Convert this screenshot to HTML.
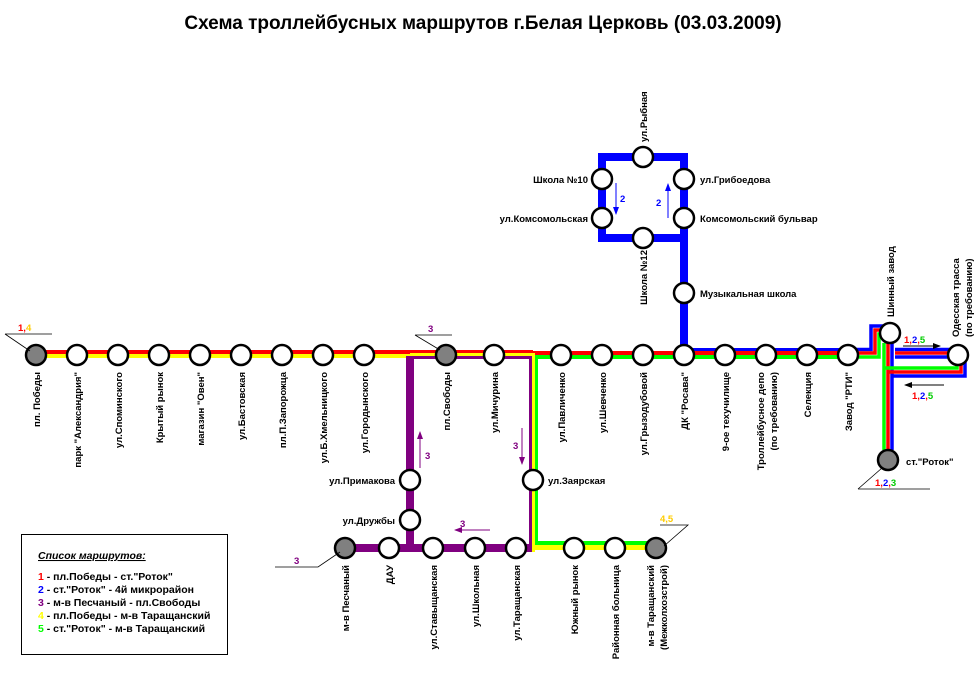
<!DOCTYPE html>
<html><head><meta charset="utf-8"><style>
html,body{margin:0;padding:0;background:#fff}
svg{display:block}
text{font-family:"Liberation Sans","DejaVu Sans",sans-serif;font-weight:bold;font-size:9.5px;fill:#000}
.lg{font-size:10.5px}
.st{fill:#fff;stroke:#000;stroke-width:2.5}
.tm{fill:#808080;stroke:#000;stroke-width:2.5}
</style></head><body>
<svg width="980" height="679" viewBox="0 0 980 679" xmlns="http://www.w3.org/2000/svg">
<defs>
<marker id="ahk" markerWidth="8" markerHeight="6" refX="7" refY="3" orient="auto" markerUnits="userSpaceOnUse"><path d="M0,0 L8,3 L0,6 z" fill="#000"/></marker>
<marker id="ahp" markerWidth="8" markerHeight="6" refX="7" refY="3" orient="auto" markerUnits="userSpaceOnUse"><path d="M0,0 L8,3 L0,6 z" fill="#800080"/></marker>
<marker id="ahb" markerWidth="8" markerHeight="6" refX="7" refY="3" orient="auto" markerUnits="userSpaceOnUse"><path d="M0,0 L8,3 L0,6 z" fill="#0000ff"/></marker>
</defs>

<text x="483" y="29" text-anchor="middle" style="font-size:19px">Схема троллейбусных маршрутов г.Белая Церковь (03.03.2009)</text>

<g fill="#0000ff">
<rect x="598" y="153" width="90" height="8"/>
<rect x="598" y="153" width="8" height="89"/>
<rect x="680" y="153" width="8" height="89"/>
<rect x="598" y="234" width="90" height="8"/>
<rect x="680" y="234" width="8" height="118"/>
</g>

<rect x="36" y="350" width="497" height="4" fill="#ff0000"/>
<rect x="36" y="354" width="374" height="4" fill="#ffff00"/>
<rect x="410" y="353" width="123" height="3" fill="#ffff00"/>
<rect x="410" y="356" width="121" height="3" fill="#800080"/>
<rect x="533" y="351" width="315" height="4" fill="#ff0000"/>
<rect x="537" y="355" width="311" height="4" fill="#00ff00"/>
<rect x="684" y="348" width="164" height="3" fill="#0000ff"/>
<rect x="684" y="351" width="164" height="4" fill="#ff0000"/>

<rect x="406" y="356" width="8" height="196" fill="#800080"/>
<rect x="529" y="356" width="3" height="196" fill="#800080"/>
<rect x="532" y="353" width="3" height="199" fill="#ffff00"/>
<rect x="535" y="355" width="3" height="189" fill="#00ff00"/>
<rect x="345" y="544" width="186" height="8" fill="#800080"/>
<rect x="535" y="541" width="121" height="4" fill="#00ff00"/>
<rect x="532" y="545" width="124" height="5" fill="#ffff00"/>

<g fill="none" stroke-width="3.5">
<path d="M848,349.5 H871 V326 H888" stroke="#0000ff"/>
<path d="M848,353 H875 V330 H888" stroke="#ff0000"/>
<path d="M848,357 H879 V334 H888" stroke="#00ff00"/>
<path d="M895,349.5 H950" stroke="#0000ff"/>
<path d="M895,353 H950" stroke="#ff0000"/>
<path d="M895,357 H950" stroke="#0000ff"/>
<path d="M884,450 V343" stroke="#00ff00"/>
<path d="M888,450 V343" stroke="#ff0000"/>
<path d="M892,450 V343" stroke="#0000ff"/>
<path d="M884,368 H957 V362" stroke="#00ff00"/>
<path d="M888,372 H961 V362" stroke="#ff0000"/>
<path d="M892,376 H965 V362" stroke="#0000ff"/>
</g>

<circle class="tm" cx="36" cy="355" r="10"/>
<circle class="st" cx="77" cy="355" r="10"/>
<circle class="st" cx="118" cy="355" r="10"/>
<circle class="st" cx="159" cy="355" r="10"/>
<circle class="st" cx="200" cy="355" r="10"/>
<circle class="st" cx="241" cy="355" r="10"/>
<circle class="st" cx="282" cy="355" r="10"/>
<circle class="st" cx="323" cy="355" r="10"/>
<circle class="st" cx="364" cy="355" r="10"/>
<circle class="tm" cx="446" cy="355" r="10"/>
<circle class="st" cx="494" cy="355" r="10"/>
<circle class="st" cx="561" cy="355" r="10"/>
<circle class="st" cx="602" cy="355" r="10"/>
<circle class="st" cx="643" cy="355" r="10"/>
<circle class="st" cx="684" cy="355" r="10"/>
<circle class="st" cx="725" cy="355" r="10"/>
<circle class="st" cx="766" cy="355" r="10"/>
<circle class="st" cx="807" cy="355" r="10"/>
<circle class="st" cx="848" cy="355" r="10"/>
<circle class="st" cx="890" cy="333" r="10"/>
<circle class="st" cx="958" cy="355" r="10"/>
<circle class="tm" cx="888" cy="460" r="10"/>
<circle class="st" cx="643" cy="157" r="10"/>
<circle class="st" cx="602" cy="179" r="10"/>
<circle class="st" cx="602" cy="218" r="10"/>
<circle class="st" cx="684" cy="179" r="10"/>
<circle class="st" cx="684" cy="218" r="10"/>
<circle class="st" cx="643" cy="238" r="10"/>
<circle class="st" cx="684" cy="293" r="10"/>
<circle class="st" cx="410" cy="480" r="10"/>
<circle class="st" cx="410" cy="520" r="10"/>
<circle class="st" cx="533" cy="480" r="10"/>
<circle class="tm" cx="345" cy="548" r="10"/>
<circle class="st" cx="389" cy="548" r="10"/>
<circle class="st" cx="433" cy="548" r="10"/>
<circle class="st" cx="475" cy="548" r="10"/>
<circle class="st" cx="516" cy="548" r="10"/>
<circle class="st" cx="574" cy="548" r="10"/>
<circle class="st" cx="615" cy="548" r="10"/>
<circle class="tm" cx="656" cy="548" r="10"/>

<g text-anchor="end">
<text transform="translate(40,372) rotate(-90)">пл. Победы</text>
<text transform="translate(81,372) rotate(-90)">парк "Александрия"</text>
<text transform="translate(122,372) rotate(-90)">ул.Споминского</text>
<text transform="translate(163,372) rotate(-90)">Крытый рынок</text>
<text transform="translate(204,372) rotate(-90)">магазин "Овен"</text>
<text transform="translate(245,372) rotate(-90)">ул.Бастовская</text>
<text transform="translate(286,372) rotate(-90)">пл.П.Запорожца</text>
<text transform="translate(327,372) rotate(-90)">ул.Б.Хмельницкого</text>
<text transform="translate(368,372) rotate(-90)">ул.Городынского</text>
<text transform="translate(450,372) rotate(-90)">пл.Свободы</text>
<text transform="translate(498,372) rotate(-90)">ул.Мичурина</text>
<text transform="translate(565,372) rotate(-90)">ул.Павличенко</text>
<text transform="translate(606,372) rotate(-90)">ул.Шевченко</text>
<text transform="translate(647,372) rotate(-90)">ул.Грызодубовой</text>
<text transform="translate(688,372) rotate(-90)">ДК "Росава"</text>
<text transform="translate(729,372) rotate(-90)">9-ое техучилище</text>
<text transform="translate(764,372) rotate(-90)">Троллейбусное депо</text>
<text transform="translate(777,372) rotate(-90)">(по требованию)</text>
<text transform="translate(811,372) rotate(-90)">Селекция</text>
<text transform="translate(852,372) rotate(-90)">Завод "РТИ"</text>
<text transform="translate(647,250) rotate(-90)">Школа №12</text>
<text transform="translate(349,565) rotate(-90)">м-в Песчаный</text>
<text transform="translate(393,565) rotate(-90)">ДАУ</text>
<text transform="translate(437,565) rotate(-90)">ул.Ставыщанская</text>
<text transform="translate(479,565) rotate(-90)">ул.Школьная</text>
<text transform="translate(520,565) rotate(-90)">ул.Таращанская</text>
<text transform="translate(578,565) rotate(-90)">Южный рынок</text>
<text transform="translate(619,565) rotate(-90)">Районная больница</text>
<text transform="translate(654,565) rotate(-90)">м-в Таращанский</text>
<text transform="translate(667,565) rotate(-90)">(Межколхозстрой)</text>
</g>
<g text-anchor="start">
<text transform="translate(647,142) rotate(-90)">ул.Рыбная</text>
<text transform="translate(894,317) rotate(-90)">Шинный завод</text>
<text transform="translate(959,337) rotate(-90)">Одесская трасса</text>
<text transform="translate(972,337) rotate(-90)">(по требованию)</text>
</g>

<text x="588" y="183" text-anchor="end">Школа №10</text>
<text x="588" y="222" text-anchor="end">ул.Комсомольская</text>
<text x="700" y="183">ул.Грибоедова</text>
<text x="700" y="222">Комсомольский бульвар</text>
<text x="700" y="297">Музыкальная школа</text>
<text x="395" y="484" text-anchor="end">ул.Примакова</text>
<text x="395" y="524" text-anchor="end">ул.Дружбы</text>
<text x="548" y="484">ул.Заярская</text>
<text x="906" y="465">ст."Роток"</text>

<g stroke="#000" stroke-width="0.8" fill="none">
<path d="M5,334 H52 M5,334 L30,351"/>
<path d="M415,335 H452 M415,335 L440,350"/>
<path d="M275,567 H318 L340,552"/>
<path d="M660,525 H688 L664,546"/>
<path d="M858,489 H930 M858,489 L882,468"/>
</g>
<text x="18" y="331" style="fill:#ff0000">1,<tspan style="fill:#ffcc00">4</tspan></text>
<text x="428" y="332" style="fill:#800080">3</text>
<text x="294" y="564" style="fill:#800080">3</text>
<text x="660" y="522" style="fill:#ffcc00">4,5</text>
<text x="875" y="486" style="fill:#ff0000">1,<tspan style="fill:#0000ff">2</tspan>,<tspan style="fill:#00cc00">3</tspan></text>
<text x="904" y="343" style="fill:#ff0000">1,<tspan style="fill:#0000ff">2</tspan>,<tspan style="fill:#00cc00">5</tspan></text>
<text x="912" y="399" style="fill:#ff0000">1,<tspan style="fill:#0000ff">2</tspan>,<tspan style="fill:#00cc00">5</tspan></text>

<g stroke-width="1">
<line x1="903" y1="346" x2="940" y2="346" stroke="#000" marker-end="url(#ahk)"/>
<line x1="944" y1="385" x2="905" y2="385" stroke="#000" marker-end="url(#ahk)"/>
<line x1="420" y1="468" x2="420" y2="432" stroke="#800080" marker-end="url(#ahp)"/>
<line x1="522" y1="428" x2="522" y2="464" stroke="#800080" marker-end="url(#ahp)"/>
<line x1="490" y1="530" x2="455" y2="530" stroke="#800080" marker-end="url(#ahp)"/>
<line x1="616" y1="183" x2="616" y2="214" stroke="#0000ff" marker-end="url(#ahb)"/>
<line x1="668" y1="218" x2="668" y2="184" stroke="#0000ff" marker-end="url(#ahb)"/>
</g>
<text x="425" y="459" style="fill:#800080">3</text>
<text x="513" y="449" style="fill:#800080">3</text>
<text x="460" y="527" style="fill:#800080">3</text>
<text x="620" y="202" style="fill:#0000ff">2</text>
<text x="656" y="206" style="fill:#0000ff">2</text>

<rect x="21.5" y="534.5" width="206" height="120" fill="#fff" stroke="#000" stroke-width="1"/>
<text class="lg" x="38" y="559" style="font-style:italic;text-decoration:underline">Список маршрутов:</text>
<text class="lg" x="38" y="580"><tspan style="fill:#ff0000">1</tspan> - пл.Победы - ст."Роток"</text>
<text class="lg" x="38" y="593"><tspan style="fill:#0000ff">2</tspan> - ст."Роток" - 4й микрорайон</text>
<text class="lg" x="38" y="606"><tspan style="fill:#800080">3</tspan> - м-в Песчаный - пл.Свободы</text>
<text class="lg" x="38" y="619"><tspan style="fill:#ffff00">4</tspan> - пл.Победы - м-в Таращанский</text>
<text class="lg" x="38" y="632"><tspan style="fill:#00ff00">5</tspan> - ст."Роток" - м-в Таращанский</text>
</svg>
</body></html>
